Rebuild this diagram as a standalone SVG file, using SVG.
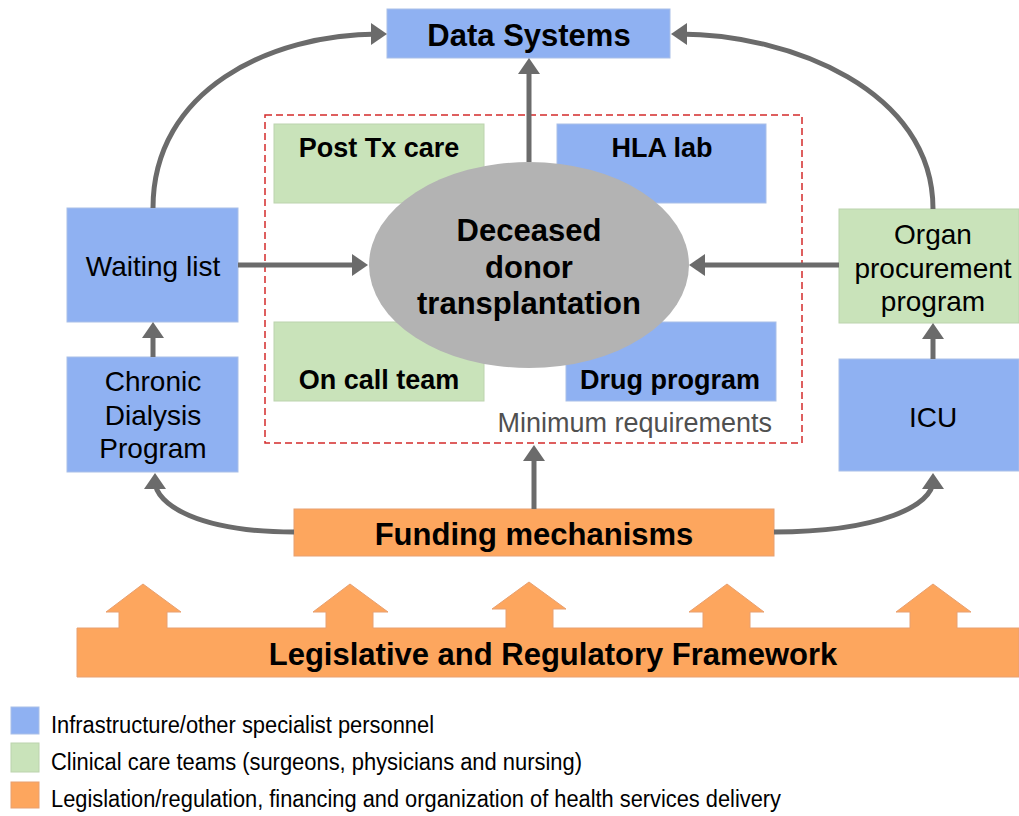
<svg xmlns="http://www.w3.org/2000/svg" width="1019" height="816" viewBox="0 0 1019 816">
  <style>
    text { font-family: "Liberation Sans", Arial, sans-serif; fill: #000; }
    .blue { fill: #8fb1f2; stroke: #a9bfe8; stroke-width: 1; }
    .green { fill: #c9e3ba; stroke: #bcd3ae; stroke-width: 1; }
    .orange { fill: #fda65e; stroke: #e8a070; stroke-width: 1; }
    .bold31 { font-size: 31px; font-weight: bold; text-anchor: middle; }
    .bold27 { font-size: 27px; font-weight: bold; text-anchor: middle; }
    .norm27 { font-size: 28px; text-anchor: middle; }
    .legend { font-size: 23px; }
    .conn { fill: none; stroke: #6b6b6b; stroke-width: 5; }
  </style>
  <defs>
    <marker id="arrow" viewBox="0 0 16 22" refX="8" refY="11" markerWidth="16" markerHeight="22" markerUnits="userSpaceOnUse" orient="auto">
      <path d="M0,0 L16,11 L0,22 Z" fill="#6b6b6b"/>
    </marker>
  </defs>
  <rect width="1019" height="816" fill="#ffffff"/>

  <!-- legislative framework bar with upward arrows -->
  <g id="legislative-framework">
    <path class="orange" stroke="none" d="M77,628 L119,628 L119,612 L106,612 L143,584 L181,612 L167,612 L167,628 L326,628 L326,612 L313,612 L350,584 L388,612 L373,612 L373,628 L506,628 L506,609 L492,609 L529,582 L566,609 L553,609 L553,628 L703,628 L703,612 L689,612 L727,584 L764,612 L750,612 L750,628 L910,628 L910,612 L896,612 L933,584 L971,612 L957,612 L957,628 L1019,628 L1019,677 L77,677 Z"/>
    <text class="bold31" x="553" y="665">Legislative and Regulatory Framework</text>
  </g>

  <!-- minimum requirements area -->
  <g id="minimum-requirements">
    <rect x="265" y="115" width="537" height="328" fill="none" stroke="#d42b2b" stroke-width="1.5" stroke-dasharray="7 4"/>
    <text x="772" y="432" font-size="27" style="fill:#505050" text-anchor="end">Minimum requirements</text>
  </g>
  <g id="post-tx-care">
    <rect class="green" x="274" y="124" width="210" height="79"/>
    <text class="bold27" x="379" y="157">Post Tx care</text>
  </g>
  <g id="hla-lab">
    <rect class="blue" x="557" y="124" width="209" height="79"/>
    <text class="bold27" x="662" y="157">HLA lab</text>
  </g>
  <g id="on-call-team">
    <rect class="green" x="274" y="322" width="210" height="79"/>
    <text class="bold27" x="379" y="389">On call team</text>
  </g>
  <g id="drug-program">
    <rect class="blue" x="566" y="322" width="210" height="79"/>
    <text class="bold27" x="670" y="389">Drug program</text>
  </g>
  <g id="deceased-donor-transplantation">
    <ellipse cx="529" cy="265" rx="160" ry="103" fill="#b3b3b3"/>
    <text class="bold31" x="529" y="241">Deceased</text>
    <text class="bold31" x="529" y="278">donor</text>
    <text class="bold31" x="529" y="314">transplantation</text>
  </g>

  <g id="data-systems">
    <rect class="blue" x="387" y="9" width="283" height="49"/>
    <text class="bold31" x="529" y="46">Data Systems</text>
  </g>
  <g id="waiting-list">
    <rect class="blue" x="67" y="208" width="171" height="114"/>
    <text class="norm27" x="153" y="276">Waiting list</text>
  </g>
  <g id="chronic-dialysis-program">
    <rect class="blue" x="67" y="357" width="171" height="115"/>
    <text class="norm27" x="153" y="391">Chronic</text>
    <text class="norm27" x="153" y="425">Dialysis</text>
    <text class="norm27" x="153" y="458">Program</text>
  </g>
  <g id="organ-procurement-program">
    <rect class="green" x="839" y="209" width="180" height="114"/>
    <text class="norm27" x="933" y="244">Organ</text>
    <text class="norm27" x="933" y="278">procurement</text>
    <text class="norm27" x="933" y="311">program</text>
  </g>
  <g id="icu">
    <rect class="blue" x="839" y="359" width="180" height="112"/>
    <text class="norm27" x="933" y="427">ICU</text>
  </g>
  <g id="funding-mechanisms">
    <rect class="orange" x="294" y="509" width="480" height="47"/>
    <text class="bold31" x="534" y="545">Funding mechanisms</text>
  </g>

  <!-- connectors -->
  <g id="connectors">
    <path class="conn" marker-end="url(#arrow)" d="M153,208 C153,90 270,34 379,34"/>
    <path class="conn" marker-end="url(#arrow)" d="M933,209 C933,90 790,34 679,34"/>
    <path class="conn" marker-end="url(#arrow)" d="M529,162 L529,66"/>
    <path class="conn" marker-end="url(#arrow)" d="M238,265 L360,265"/>
    <path class="conn" marker-end="url(#arrow)" d="M839,265 L697,265"/>
    <path class="conn" marker-end="url(#arrow)" d="M153,357 L153,330"/>
    <path class="conn" marker-end="url(#arrow)" d="M933,359 L933,331"/>
    <path class="conn" marker-end="url(#arrow)" d="M534,509 L534,453"/>
    <path class="conn" marker-end="url(#arrow)" d="M294,532 C200,532 155,505 155,481"/>
    <path class="conn" marker-end="url(#arrow)" d="M774,532 C880,532 933,505 933,481"/>
  </g>

  <!-- legend -->
  <g id="legend">
    <rect class="blue" x="11" y="707" width="28" height="27"/>
    <rect class="green" x="11" y="743" width="28" height="29"/>
    <rect class="orange" x="11" y="782" width="28" height="26"/>
    <text class="legend" x="51" y="733" textLength="383" lengthAdjust="spacingAndGlyphs">Infrastructure/other specialist personnel</text>
    <text class="legend" x="51" y="770" textLength="531" lengthAdjust="spacingAndGlyphs">Clinical care teams (surgeons, physicians and nursing)</text>
    <text class="legend" x="51" y="807" textLength="730" lengthAdjust="spacingAndGlyphs">Legislation/regulation, financing and organization of health services delivery</text>
  </g>
</svg>
